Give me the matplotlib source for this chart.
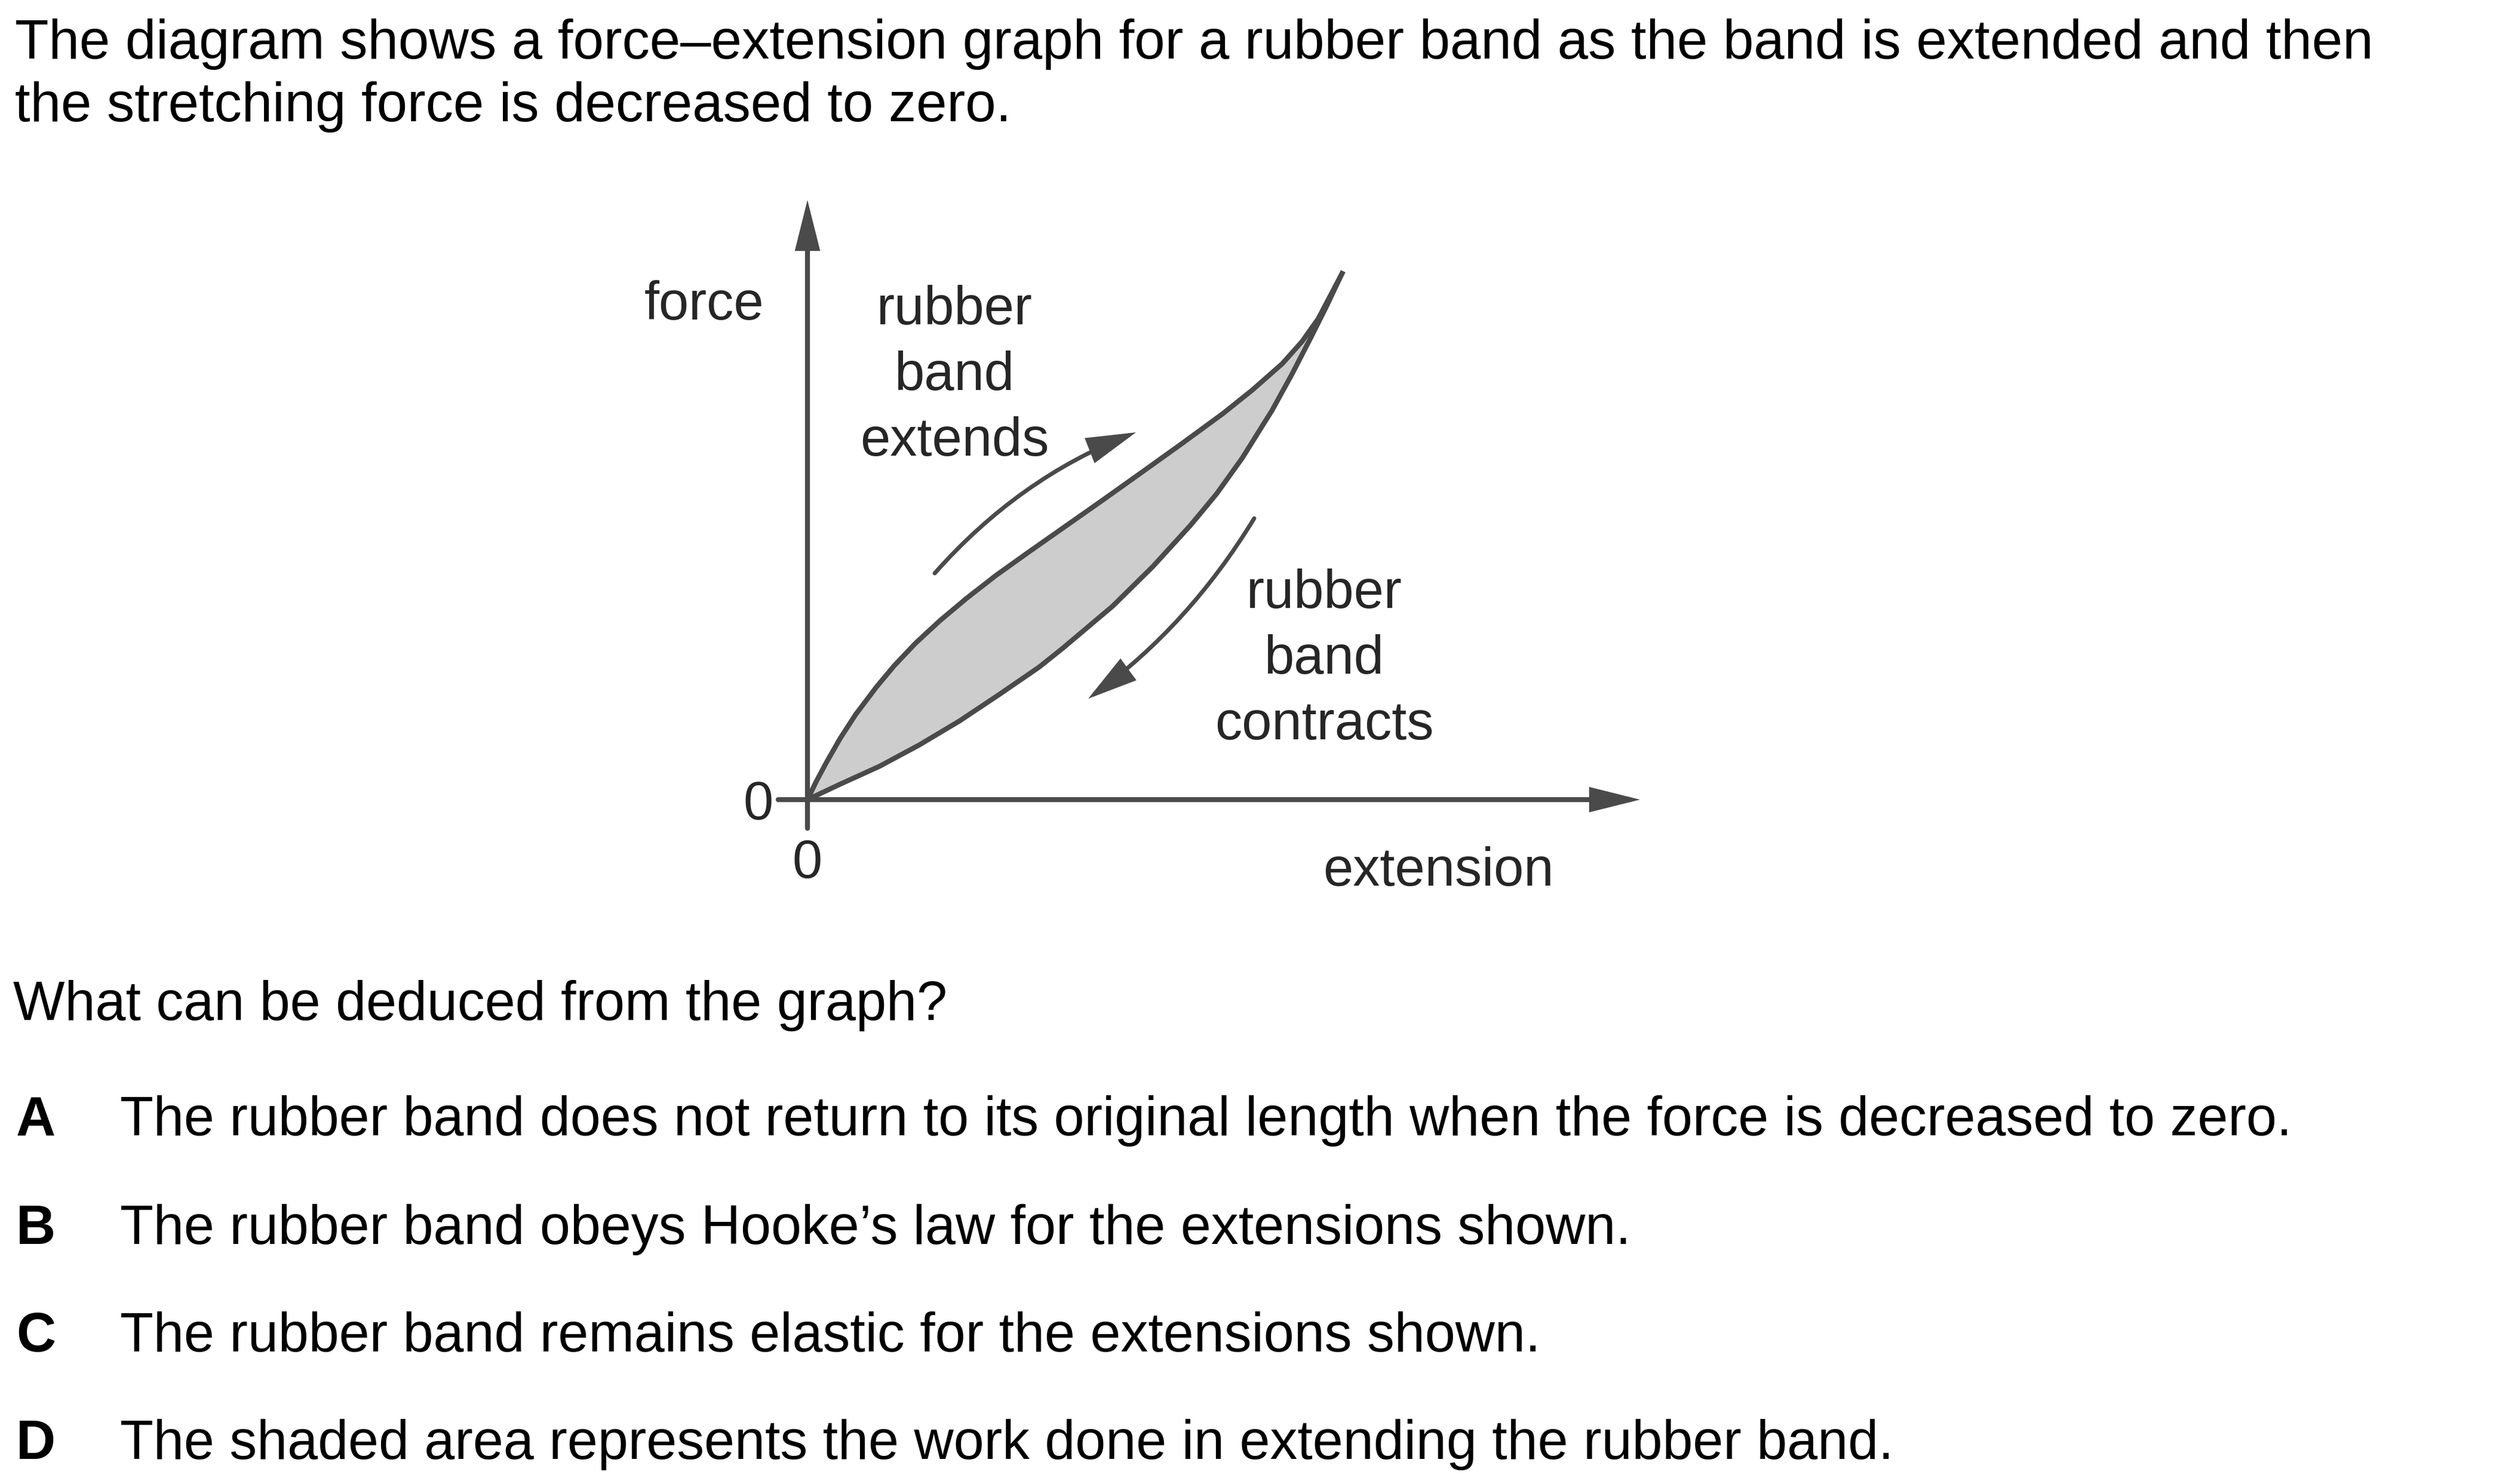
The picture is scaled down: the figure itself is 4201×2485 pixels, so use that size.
import matplotlib
matplotlib.use("Agg")
import matplotlib.pyplot as plt

plt.rcParams['font.family'] = ['Liberation Sans', 'DejaVu Sans']

W, H = 4201, 2485
DPI = 100

# force-extension loop (arbitrary units, origin at 0,0)
load_ext = [0.00, 0.15, 0.31, 0.55, 0.81, 1.15, 1.45, 1.81, 2.21, 2.65, 3.15, 3.71,
            4.28, 4.95, 5.61, 6.28, 6.95, 7.45, 7.95, 8.28, 8.55, 8.95]
load_force = [0.00, 0.31, 0.61, 1.03, 1.43, 1.88, 2.24, 2.62, 2.99, 3.36, 3.75, 4.15,
              4.55, 5.02, 5.49, 5.97, 6.46, 6.86, 7.30, 7.67, 8.05, 8.81]
unload_ext = [8.95, 8.70, 8.43, 8.11, 7.78, 7.28, 6.85, 6.41, 5.78, 5.11, 4.28,
              3.88, 3.21, 2.55, 1.88, 1.21, 0.55, 0.00]
unload_force = [8.81, 8.28, 7.74, 7.12, 6.52, 5.72, 5.12, 4.59, 3.90, 3.24, 2.54,
                2.22, 1.76, 1.32, 0.92, 0.56, 0.26, 0.00]

# axis extents (tick stub start, arrow tip)
x_axis = (-0.49, 13.94)
y_axis = (-0.48, 10.04)

# direction arrows: (start, tip)
extend_arrow = ((2.13, 3.79), (5.50, 6.15))
contract_arrow = ((7.48, 4.71), (4.70, 1.69))

labels_extend = ["rubber", "band", "extends"]
labels_contract = ["rubber", "band", "contracts"]

intro = ["The diagram shows a force\u2013extension graph for a rubber band as the band is extended and then",
         "the stretching force is decreased to zero."]
question = "What can be deduced from the graph?"
option_keys = ["A", "B", "C", "D"]
option_texts = [
    "The rubber band does not return to its original length when the force is decreased to zero.",
    "The rubber band obeys Hooke\u2019s law for the extensions shown.",
    "The rubber band remains elastic for the extensions shown.",
    "The shaded area represents the work done in extending the rubber band.",
]

LINE = '#4a4a4a'
FILL = '#cdcdcd'
TXT = '#262626'
FS = 65

fig = plt.figure(figsize=(W / DPI, H / DPI), dpi=DPI)
fig.patch.set_facecolor('white')

# one data unit = 100 px, origin of the graph at pixel (1352, 1339)
ox, oy = 1352, 1339
ax = fig.add_axes([0, 0, 1, 1])
ax.set_xlim(-ox / 100, (W - ox) / 100)
ax.set_ylim(-(H - oy) / 100, oy / 100)
ax.axis('off')

# shaded loop
ax.fill(load_ext + unload_ext, load_force + unload_force, color=FILL, lw=0, zorder=1)
ax.plot(load_ext, load_force, color=LINE, lw=6, solid_joinstyle='round', zorder=3)
ax.plot(unload_ext, unload_force, color=LINE, lw=6, solid_joinstyle='round', zorder=3)

# axes with arrow heads
axis_style = dict(arrowstyle='-|>,head_length=4.6,head_width=1.15', mutation_scale=10,
                  lw=6, color=LINE, shrinkA=0, shrinkB=0, joinstyle='miter')
ax.annotate('', xy=(x_axis[1], 0), xytext=(x_axis[0], 0), arrowprops=axis_style, zorder=4)
ax.annotate('', xy=(0, y_axis[1]), xytext=(0, y_axis[0]), arrowprops=axis_style, zorder=4)

# curved direction arrows
small_style = dict(arrowstyle='-|>,head_length=4.8,head_width=1.3', mutation_scale=10,
                   lw=5, color=LINE, shrinkA=0, shrinkB=0, joinstyle='miter')
ax.annotate('', xy=extend_arrow[1], xytext=extend_arrow[0],
            arrowprops=dict(small_style, connectionstyle='arc3,rad=-0.12'), zorder=4)
ax.annotate('', xy=contract_arrow[1], xytext=contract_arrow[0],
            arrowprops=dict(small_style, connectionstyle='arc3,rad=-0.10'), zorder=4)

# graph labels
ax.text(-1.73, 8.04, "force", fontsize=FS, color=TXT, ha='center', va='baseline')
for i, s in enumerate(labels_extend):
    ax.text(2.46, 7.96 - 1.10 * i, s, fontsize=FS, color=TXT, ha='center', va='baseline')
for i, s in enumerate(labels_contract):
    ax.text(8.65, 3.21 - 1.10 * i, s, fontsize=FS, color=TXT, ha='center', va='baseline')
ax.text(10.56, -1.44, "extension", fontsize=FS, color=TXT, ha='center', va='baseline')
ax.text(-0.82, -0.33, "0", fontsize=FS, color=TXT, ha='center', va='baseline')
ax.text(0, -1.31, "0", fontsize=FS, color=TXT, ha='center', va='baseline')


def fpos(x, y):
    return x / W, 1 - y / H


QS = 66.5
OS = 66
fig.text(*fpos(25, 98), intro[0], fontsize=QS, color='black', va='baseline')
fig.text(*fpos(25, 203), intro[1], fontsize=QS, color='black', va='baseline')
fig.text(*fpos(22, 1708), question, fontsize=OS, color='black', va='baseline')
option_y = [1901, 2083, 2263, 2443]
for k, t, y in zip(option_keys, option_texts, option_y):
    fig.text(*fpos(27, y), k, fontsize=OS, color='black', va='baseline', fontweight='bold')
    fig.text(*fpos(201, y), t, fontsize=OS, color='black', va='baseline')

fig.savefig('out.png', dpi=DPI, facecolor='white')
